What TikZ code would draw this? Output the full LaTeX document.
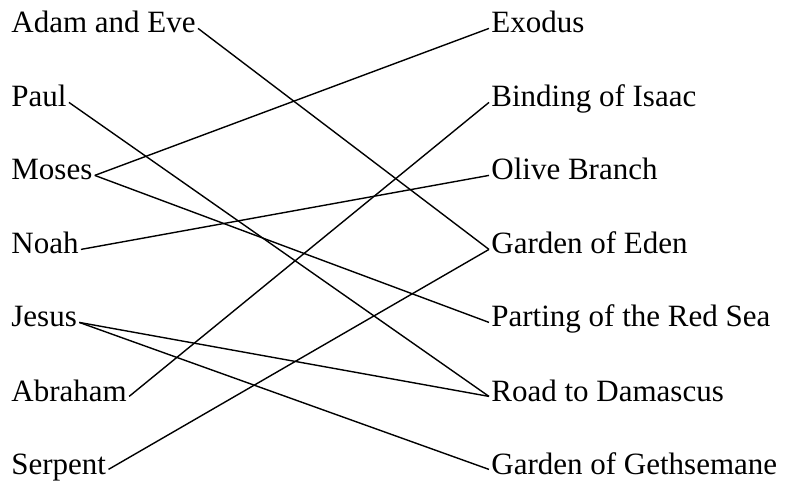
\documentclass[tikz,border=0pt]{standalone}
\usepackage{fontspec}
\setmainfont{Liberation Serif}

\begin{document}
\begin{tikzpicture}[x=0.5pt,y=-0.5pt]
\useasboundingbox (0,0) rectangle (789,481);
\tikzset{item/.style={anchor=base west, inner sep=1pt, font=\fontsize{15.5}{19}\selectfont}}

\node[item] (adam) at (9,33) {Adam and Eve};
\node[item] (paul) at (9,107) {Paul};
\node[item] (moses) at (9,180) {Moses};
\node[item] (noah) at (9,254) {Noah};
\node[item] (jesus) at (9,327) {Jesus};
\node[item] (abraham) at (9,401) {Abraham};
\node[item] (serpent) at (9,474) {Serpent};

\node[item] (exodus) at (489,33) {Exodus};
\node[item] (isaac) at (489,107) {Binding of Isaac};
\node[item] (olive) at (489,180) {Olive Branch};
\node[item] (eden) at (489,254) {Garden of Eden};
\node[item] (redsea) at (489,327) {Parting of the Red Sea};
\node[item] (damascus) at (489,401) {Road to Damascus};
\node[item] (gethsemane) at (489,474) {Garden of Gethsemane};

\path[draw,line width=0.7pt,-] (adam.mid east) -- (eden.mid west);
\path[draw,line width=0.7pt,-] (paul.mid east) -- (damascus.mid west);
\path[draw,line width=0.7pt,-] (moses.mid east) -- (exodus.mid west);
\path[draw,line width=0.7pt,-] (moses.mid east) -- (redsea.mid west);
\path[draw,line width=0.7pt,-] (noah.mid east) -- (olive.mid west);
\path[draw,line width=0.7pt,-] (jesus.mid east) -- (damascus.mid west);
\path[draw,line width=0.7pt,-] (jesus.mid east) -- (gethsemane.mid west);
\path[draw,line width=0.7pt,-] (abraham.mid east) -- (isaac.mid west);
\path[draw,line width=0.7pt,-] (serpent.mid east) -- (eden.mid west);
\end{tikzpicture}
\end{document}
